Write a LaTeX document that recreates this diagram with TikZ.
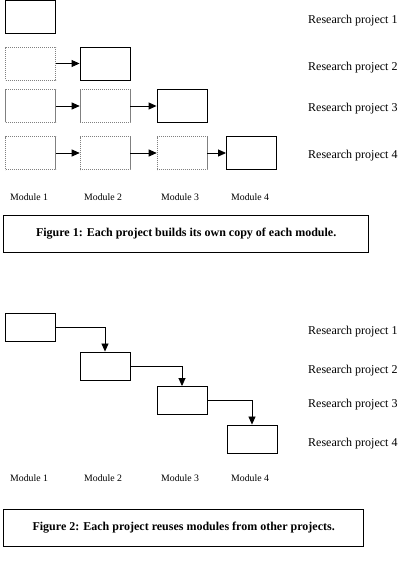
\documentclass[tikz,border=0pt]{standalone}
\usepackage{fontspec}
\setmainfont{Liberation Serif}
\usepackage{tikz}
\usetikzlibrary{arrows.meta,positioning}

\begin{document}
\begin{tikzpicture}[x=1pt,y=-1pt,>={Triangle[length=8pt,width=7pt]},
  new box/.style={draw,line width=0.9pt,minimum width=50pt,
  minimum height=33pt,inner sep=0pt},
  copy box/.style={new box,draw=black!50,line width=0.6pt,
  dash pattern=on 1.2pt off 0.8pt},
  low box/.style={new box,minimum height=28pt},
  project/.style={anchor=west,font=\fontsize{12}{14}\selectfont,inner sep=0pt},
  module/.style={anchor=west,font=\fontsize{9.8}{12}\selectfont,inner sep=0pt},
  caption box/.style={draw,line width=0.7pt,anchor=north west,inner sep=0pt,
  font=\fontsize{12}{14}\selectfont\bfseries}]

  \useasboundingbox (0,0) rectangle (408,586);

  % Figure 1
  \node[new box] (a11) at (30.75,16.5) {};
  \node[copy box] (a21) at (30.75,63.5) {};
  \node[new box] (a22) at (105,63.5) {};
  \node[copy box] (a31) at (30.75,106) {};
  \node[copy box] (a32) at (105,106) {};
  \node[new box] (a33) at (182,106) {};
  \node[copy box] (a41) at (30.75,153) {};
  \node[copy box] (a42) at (105,153) {};
  \node[copy box] (a43) at (182,153) {};
  \node[new box] (a44) at (251.5,153) {};

  \path[->,line width=0.9pt]
    (a21) edge (a22)
    (a31) edge (a32)
    (a32) edge (a33)
    (a41) edge (a42)
    (a42) edge (a43)
    (a43) edge (a44);

  \node[project] (p1) at (308,20.5) {Research project 1};
  \node[project] (p2) at (308,67.5) {Research project 2};
  \node[project] (p3) at (308,109) {Research project 3};
  \node[project] (p4) at (308,156) {Research project 4};

  \node[module] (m1) at (10,197) {Module 1};
  \node[module] (m2) at (84,197) {Module 2};
  \node[module] (m3) at (161,197) {Module 3};
  \node[module] (m4) at (231,197) {Module 4};

  \node[caption box,minimum width=365pt,minimum height=37pt] (c1) at (3.3,215)
    {Figure 1: Each project builds its own copy of each module.};

  % Figure 2
  \node[low box] (b1) at (30.75,327) {};
  \node[low box] (b2) at (105,366) {};
  \node[low box] (b3) at (182,400.5) {};
  \node[low box] (b4) at (252,439) {};

  \draw[->,line width=0.7pt] (b1) -| (b2);
  \draw[->,line width=0.7pt] (b2) -| (b3);
  \draw[->,line width=0.7pt] (b3) -| (b4);

  \node[project] (q1) at (308,332) {Research project 1};
  \node[project] (q2) at (308,371) {Research project 2};
  \node[project] (q3) at (308,405) {Research project 3};
  \node[project] (q4) at (308,444) {Research project 4};

  \node[module] (n1) at (10,478) {Module 1};
  \node[module] (n2) at (84,478) {Module 2};
  \node[module] (n3) at (161,478) {Module 3};
  \node[module] (n4) at (231,478) {Module 4};

  \node[caption box,minimum width=360pt,minimum height=37pt] (c2) at (3.3,509)
    {Figure 2: Each project reuses modules from other projects.};

\end{tikzpicture}
\end{document}
